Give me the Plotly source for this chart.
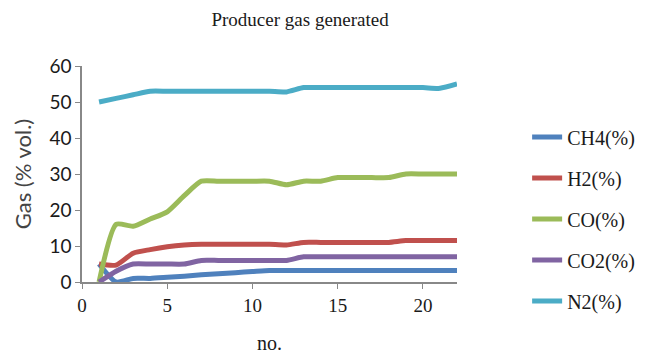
import plotly.graph_objects as go

x_no = list(range(1, 23))
ch4 = [5, 0, 1, 1, 1.3, 1.6, 2, 2.3, 2.6, 2.9, 3.2, 3.2, 3.2, 3.2, 3.2, 3.2, 3.2, 3.2, 3.2, 3.2, 3.2, 3.2]
h2 = [5, 4.7, 8, 9, 9.8, 10.3, 10.5, 10.5, 10.5, 10.5, 10.5, 10.3, 11, 11, 11, 11, 11, 11, 11.5, 11.5, 11.5, 11.5]
co = [0, 16, 15.5, 17.5, 19.5, 24, 28, 28, 28, 28, 28, 27, 28, 28, 29, 29, 29, 29, 30, 30, 30, 30]
co2 = [0, 3, 5, 5, 5, 5, 6, 6, 6, 6, 6, 6, 7, 7, 7, 7, 7, 7, 7, 7, 7, 7]
n2 = [50, 51, 52, 53, 53, 53, 53, 53, 53, 53, 53, 52.8, 54, 54, 54, 54, 54, 54, 54, 54, 53.8, 55]

series_names = ["CH4(%)", "H2(%)", "CO(%)", "CO2(%)", "N2(%)"]
series_vals = [ch4, h2, co, co2, n2]
colors = ["#4F81BD", "#C0504D", "#9BBB59", "#8064A2", "#4BACC6"]

serif = "Liberation Serif, Times New Roman, serif"
sans = "Lato, Carlito, Calibri, sans-serif"
txt = "#1a1a1a"

fig = go.Figure()
for i, (name, vals, c) in enumerate(zip(series_names, series_vals, colors)):
    fig.add_trace(go.Scatter(
        x=x_no, y=vals, name=name, mode="lines",
        line=dict(color=c, width=5, shape="spline", smoothing=0.6),
        legendgroup=f"g{i}",
    ))

# page body has an 8px default margin; figure sized to fit the 650x354 window
fig.update_layout(
    width=642, height=346,
    margin=dict(l=74, r=193, t=58, b=72, autoexpand=False),
    paper_bgcolor="white", plot_bgcolor="white",
    font=dict(family=serif, color=txt, size=18),
    title=dict(text="Producer gas generated", x=0.455, xanchor="center", y=0.968, yanchor="middle",
               font=dict(size=19, family=serif, color=txt)),
    showlegend=True,
    legend=dict(x=1.187, xanchor="left", y=0.762, yanchor="top",
                font=dict(size=20, family=serif, color=txt),
                tracegroupgap=12, bgcolor="rgba(0,0,0,0)"),
)
fig.update_xaxes(range=[0, 22], dtick=5, tick0=0, showgrid=False, zeroline=False,
                 showline=True, linecolor="#888", linewidth=1.5, automargin=False,
                 ticks="outside", ticklen=5, tickcolor="#888",
                 title=dict(text="no.", font=dict(size=20, family=serif, color=txt), standoff=22),
                 tickfont=dict(size=19, family=serif, color=txt))
fig.update_yaxes(range=[0, 60], dtick=10, showgrid=False, zeroline=False,
                 showline=True, linecolor="#888", linewidth=1.5, automargin=False,
                 ticks="outside", ticklen=5, tickcolor="#888",
                 title=dict(text="Gas (% vol.)", font=dict(size=22, family=sans, color="#444"), standoff=12),
                 tickfont=dict(size=19, family=sans, color=txt))

fig.write_html("out.html")
